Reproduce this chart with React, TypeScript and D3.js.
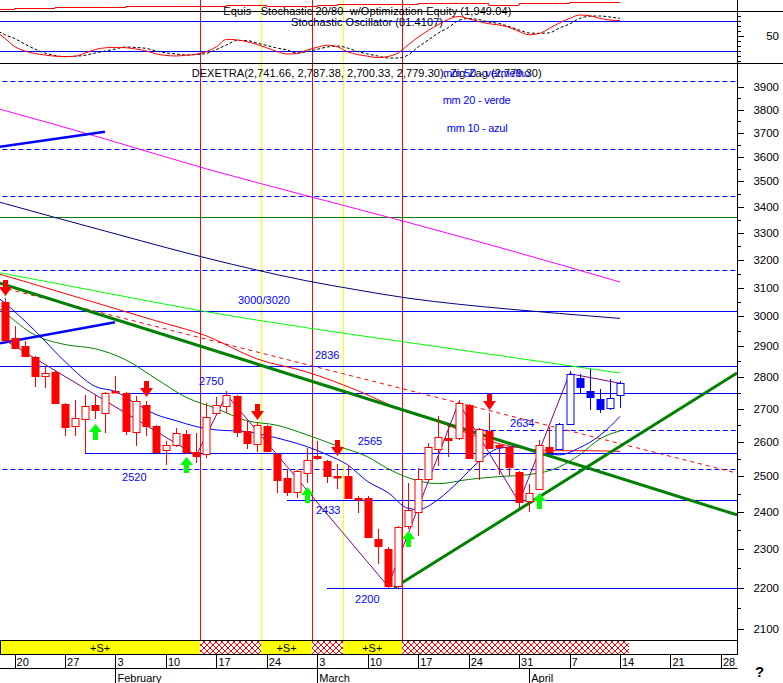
import React from 'react';
import * as d3 from 'd3';

// day index 0 = Fri 17 Jan 2003, one index per weekday
const opens = [3050,2927,2899,2864,2802,2814,2715,2648,2668,2712,2687,2756,2749,2628,2712,2648,2575,2591,2624,2569,2562,2685,2709,2738,2632,2594,2647,2562,2493,2455,2508,2557,2542,2501,2501,2439,2439,2327,2301,2204,2361,2398,2492,2579,2610,2610,2712,2544,2633,2589,2585,2511,2429,2464,2585,2577,2654,2796,2756,2730,2702,2741.66];
const highs = [3062,2966,2916,2866,2832,2818,2718,2726,2743,2743,2751,2804,2753,2738,2723,2650,2601,2641,2636,2625,2718,2736,2754,2743,2661,2657,2650,2565,2520,2518,2582,2601,2547,2533,2530,2443,2443,2352,2304,2362,2481,2523,2597,2676,2651,2728,2715,2641,2687,2592,2588,2515,2476,2606,2645,2657,2817,2809,2826,2761,2793,2787.38];
const lows = [2915,2891,2864,2768,2764,2715,2618,2618,2567,2668,2626,2750,2620,2587,2618,2567,2532,2585,2562,2537,2553,2682,2687,2615,2577,2569,2571,2453,2442,2439,2481,2545,2479,2462,2434,2395,2329,2261,2200,2200,2352,2334,2490,2528,2555,2606,2549,2488,2580,2504,2499,2411,2399,2462,2568,2575,2651,2746,2697,2687,2697,2700.33];
const closes = [2920,2894,2868,2804,2812,2718,2645,2671,2707,2695,2749,2752,2633,2723,2648,2570,2589,2627,2570,2559,2674,2712,2743,2630,2596,2651,2572,2488,2455,2515,2547,2551,2501,2496,2439,2434,2332,2307,2204,2357,2404,2490,2585,2614,2606,2718,2551,2638,2582,2585,2526,2426,2453,2591,2569,2654,2810,2769,2735,2699,2733,2779.30];
const BLUE_FROM = 55;

// stochastic %K / %D, day index -1 .. 61
const stochK = [62.6,46.6,29.6,20.6,15.6,12.6,10.2,9.4,10.2,16.6,23.6,27,27.8,27.2,24.6,21,15,11.8,10.6,12.2,14,19.2,29,43.8,43,39.2,33.8,27,19.6,14.6,15.6,22.6,28,32.2,29,19,13.6,10.2,7.4,9.6,16.6,32.6,48.6,61.6,73.6,84,89.6,85,79.6,75.2,72.6,68,59.6,53,55.6,66,76.8,85.6,92.6,91.2,85.8,82.6,81.41];
const stochD = [64.6,53.6,45.6,34.6,24.6,16.6,11.6,9.4,10.2,12,16.6,20.6,24.6,28.6,27.6,26,20.6,17,14.6,12.6,13.6,15.6,23.6,32.6,41.6,41.6,36.6,31.6,26.6,22.6,16.6,19.6,24,28.6,30.6,26.6,19.6,14.6,10.6,6.6,6.6,12.6,28.6,42.6,56.6,67.6,81.6,85.6,83.4,78.6,75.6,69.6,62.6,56.6,56,57,66.6,74.6,85.6,90.2,90.6,88.6,86];
const equity = [1167,1167,1278,1278,1278,1278,1356,1356,1356,1356,1356,1356,1356,1467,1467,1467,1467,1467,1467,1467,1467,1533,1533,1611,1611,1611,1611,1500,1500,1500,1500,1500,1644,1644,1722,1722,1722,1722,1722,1722,1722,1722,1867,1867,1867,1867,1867,1867,1867,1644,1644,1644,1867,1867,1867,1867,1867,1949.04,1949.04,1949.04,1949.04,1949.04,1949.04];

// moving averages [dayIndex, value]
const ma10: [number, number][] = [[-1,3075],[0,3047],[3,2952],[6,2849],[9,2769],[11,2753],[13,2716],[15,2682],[17,2663],[19,2645],[21,2635],[24,2630],[26,2618],[28,2603],[30,2585],[32,2561],[34,2532],[36,2484],[38,2453],[40,2409],[41,2406],[43,2434],[45,2484],[47,2541],[49,2580],[51,2585],[53,2568],[55,2561],[57,2582],[59,2618],[61,2676]];
const ma20: [number, number][] = [[-1,3040],[0,3013],[3,2937],[6,2905],[9,2891],[12,2855],[15,2794],[18,2735],[21,2700],[24,2663],[27,2649],[30,2620],[33,2587],[36,2555],[38,2521],[40,2495],[43,2478],[46,2490],[49,2498],[52,2504],[55,2526],[57,2561],[59,2608],[61,2632]];
const ma50: [number, number][] = [[-1,3153],[0,3143],[5,3090],[10,3037],[15,2985],[20,2934],[25,2858],[30,2815],[35,2756],[40,2688],[43,2660],[46,2624],[49,2594],[52,2578],[55,2573],[58,2573],[61,2571]];
const maLime: [number, number][] = [[-1,3157],[0,3150],[10,3082],[20,3016],[30,2961],[40,2912],[50,2864],[61,2812]];
const maNavy: [number, number][] = [[-1,3424],[0,3413],[10,3307],[20,3207],[25,3163],[30,3124],[35,3092],[40,3063],[45,3042],[50,3025],[55,3010],[61,2993]];
const maMagenta: [number, number][] = [[-1,3808],[0,3796],[10,3674],[20,3551],[30,3443],[40,3340],[50,3236],[61,3120]];

const zigzagDays = [0, 19, 22, 38, 45, 51, 56, 61];

const solidLevels = [
  { v: 3360, from: -1, green: true },
  { v: 3020, from: -1 },
  { v: 2836, from: -1 },
  { v: 2750, from: 11.75 },
  { v: 2565, from: 7.98 },
  { v: 2433, from: 28 },
  { v: 2200, from: 32 },
];
const dashedLevels = [
  { v: 3925, from: -1 },
  { v: 3631, from: -1 },
  { v: 3443, from: -1 },
  { v: 3163, from: -1 },
  { v: 2634, from: 47.4 },
  { v: 2520, from: -1 },
];
const levelLabels = [
  { text: '3000/3020', d: 23.14, v: 3020, dy: -6.6 },
  { text: '2836', d: 30.77, v: 2836, dy: -6.6 },
  { text: '2750', d: 19.28, v: 2750, dy: -7.5 },
  { text: '2565', d: 35.0, v: 2565, dy: -8.4 },
  { text: '2634', d: 50.1, v: 2634, dy: -3.3 },
  { text: '2520', d: 11.65, v: 2520, dy: 12 },
  { text: '2433', d: 30.87, v: 2433, dy: 14.5 },
  { text: '2200', d: 34.74, v: 2200, dy: 15 },
];

const trendLines = [
  { d1: -0.45, v1: 3642, d2: 9.96, v2: 3705, color: '#0000ff', w: 2.5 },
  { d1: -0.45, v1: 2909, d2: 10.95, v2: 2980, color: '#0000ff', w: 2.5 },
  { d1: -0.45, v1: 3116, d2: 72.6, v2: 2391, color: '#008000', w: 3 },
  { d1: 38.6, v1: 2200, d2: 72.6, v2: 2812, color: '#008000', w: 3 },
];
const dashedTrend = { d1: -0.45, v1: 3102, d2: 72.6, v2: 2508 };

const sellDays = [0, 14, 25, 33, 48];
const sellTips = [3069, 2737, 2666, 2558, 2697];
const buyDays = [9, 18, 30, 40, 53];
const buyTips = [2654, 2556, 2469, 2347, 2453];

const redSignalDays = [19.4, 30.5, 39.4];
const yellowSignalDays = [25.4, 33.5];
const stripSegments = [
  { from: -0.5, to: 19.4, s: true },
  { from: 19.4, to: 25.4, s: false },
  { from: 25.4, to: 30.5, s: true },
  { from: 30.5, to: 33.5, s: false },
  { from: 33.5, to: 39.4, s: true },
  { from: 39.4, to: 61.9, s: false },
];

const mondayDays = [1, 6, 11, 16, 21, 26, 31, 36, 41, 46, 51, 56, 61, 66, 71];
const mondayLabels = ['20', '27', '3', '10', '17', '24', '3', '10', '17', '24', '31', '7', '14', '21', '28'];
const monthDays = [11, 31, 52];
const monthLabels = ['February', 'March', 'April'];

const priceTicks = d3.range(2100, 3901, 100);
const priceMinor = d3.range(2150, 3901, 100);

const FONT = "'Liberation Sans', Arial, sans-serif";
const px = (v: number) => Math.round(v) + 0.5;

export default function App() {
  const AX = 737;
  const x = d3.scaleLinear().domain([0, 71]).range([4.5, 720.9]);
  const y = d3.scaleLog().domain([2100, 3900]).range([628.5, 86.8]);
  const ys = d3.scaleLinear().domain([0, 100]).range([61.3, 11.3]);
  const ye = d3.scaleLinear().domain([1000, 2000]).range([10.5, 1.5]);

  const maLine = d3.line<[number, number]>().x(p => x(p[0])).y(p => y(p[1])).curve(d3.curveMonotoneX);
  const stLine = d3.line<number>().x((_, i) => x(i - 1)).y(v => ys(v)).curve(d3.curveMonotoneX);
  const eqLine = d3.line<number>().x((_, i) => x(i - 1)).y(v => px(ye(v))).curve(d3.curveStepAfter);
  const zz = d3.line<number>().x(d => x(d)).y(d => y(closes[d]));

  const mas = [
    { data: maMagenta, color: '#ff00ff' },
    { data: maNavy, color: '#000080' },
    { data: maLime, color: '#00ff00' },
    { data: ma50, color: '#ff0000' },
    { data: ma20, color: '#008000' },
    { data: ma10, color: '#0000ff' },
  ];

  return (
    <svg width={783} height={683} style={{ position: 'absolute', left: 0, top: 0, background: '#fff' }} fontFamily={FONT}>
      <defs>
        <clipPath id="main"><rect x={0} y={64} width={AX} height={576} /></clipPath>
        <clipPath id="stoch"><rect x={0} y={11.5} width={AX} height={51.5} /></clipPath>
        <clipPath id="eq"><rect x={0} y={0} width={AX} height={11} /></clipPath>
        <pattern id="hatch" width={6} height={6} patternUnits="userSpaceOnUse">
          <rect width={6} height={6} fill="#fff" />
          <path d="M0,0 L6,6 M6,0 L0,6" stroke="#ff0000" strokeWidth={1} />
        </pattern>
      </defs>
      <rect x={0} y={0} width={783} height={683} fill="#fff" />

      {/* vertical signal lines */}
      {yellowSignalDays.map((d, i) => (
        <line key={'yv' + i} x1={px(x(d))} x2={px(x(d))} y1={0} y2={640.5} stroke="#ffff00" strokeWidth={1} />
      ))}
      {redSignalDays.map((d, i) => (
        <line key={'rv' + i} x1={px(x(d))} x2={px(x(d))} y1={0} y2={640.5} stroke="#ff0000" strokeWidth={1} />
      ))}

      {/* equity panel */}
      <g clipPath="url(#eq)">
        <path d={eqLine(equity) || ''} fill="none" stroke="#ff0000" strokeWidth={1} />
      </g>
      <line x1={0} x2={783} y1={11.5} y2={11.5} stroke="#000" />
      <text x={223.3} y={14.7} fontSize={11} textLength={288} lengthAdjust="spacing" style={{ whiteSpace: 'pre' }}>Equis   Stochastic 20/80  w/Optimization Equity (1,949.04)</text>

      {/* stochastic panel */}
      <line x1={0} x2={AX} y1={px(ys(80))} y2={px(ys(80))} stroke="#0000ff" />
      <line x1={0} x2={AX} y1={px(ys(20))} y2={px(ys(20))} stroke="#0000ff" />
      <text x={291} y={25.7} fontSize={11} textLength={152} lengthAdjust="spacing">Stochastic Oscillator (81.4107)</text>
      <g clipPath="url(#stoch)">
        <path d={stLine(stochD) || ''} fill="none" stroke="#000" strokeWidth={1} strokeDasharray="3,2" />
        <path d={stLine(stochK) || ''} fill="none" stroke="#ff0000" strokeWidth={1} />
      </g>
      <line x1={0} x2={783} y1={63.5} y2={63.5} stroke="#000" />

      {/* main panel */}
      <g clipPath="url(#main)">
        {dashedLevels.map((l, i) => (
          <line key={'dl' + i} x1={x(l.from)} x2={AX} y1={px(y(l.v))} y2={px(y(l.v))} stroke="#0000ff" strokeDasharray="5,3" />
        ))}
        {solidLevels.map((l, i) => (
          <line key={'sl' + i} x1={Math.round(x(l.from))} x2={AX} y1={px(y(l.v))} y2={px(y(l.v))} stroke={l.green ? '#008000' : '#0000ff'} />
        ))}
        {mas.map((m, i) => (
          <path key={'ma' + i} d={maLine(m.data) || ''} fill="none" stroke={m.color} strokeWidth={1} />
        ))}
        <line x1={x(dashedTrend.d1)} y1={y(dashedTrend.v1)} x2={x(dashedTrend.d2)} y2={y(dashedTrend.v2)} stroke="#ff0000" strokeDasharray="4,4" />
        {trendLines.map((t, i) => (
          <line key={'tl' + i} x1={x(t.d1)} y1={y(t.v1)} x2={x(t.d2)} y2={y(t.v2)} stroke={t.color} strokeWidth={t.w} />
        ))}
        <path d={zz(zigzagDays) || ''} fill="none" stroke="#800080" strokeWidth={1} />

        {opens.map((o, i) => {
          const c = closes[i];
          const col = i >= BLUE_FROM ? '#0000ff' : '#ff0000';
          const up = c > o;
          const cx = Math.round(x(i)) + 0.5;
          const top = Math.round(y(Math.max(o, c))) + 0.5;
          const bot = Math.round(y(Math.min(o, c))) + 0.5;
          const bh = Math.max(bot - top, 1.5);
          return (
            <g key={'c' + i}>
              <line x1={cx} x2={cx} y1={Math.round(y(highs[i]))} y2={Math.round(y(lows[i]))} stroke={col} />
              <rect x={cx - 3.5} y={top} width={7} height={bh} fill={up ? '#fff' : col} stroke={col} />
            </g>
          );
        })}

        {sellDays.map((d, i) => {
          const cx = Math.round(x(d)) + 0.5;
          const t = Math.round(y(sellTips[i]));
          return <path key={'s' + i} d={`M${cx - 2.5},${t - 16}H${cx + 2.5}V${t - 9}H${cx + 6.5}L${cx},${t}L${cx - 6.5},${t - 9}H${cx - 2.5}Z`} fill="#ff0000" />;
        })}
        {buyDays.map((d, i) => {
          const cx = Math.round(x(d)) + 0.5;
          const t = Math.round(y(buyTips[i]));
          return <path key={'b' + i} d={`M${cx},${t}L${cx + 6.5},${t + 8}H${cx + 2.5}V${t + 16}H${cx - 2.5}V${t + 8}H${cx - 6.5}Z`} fill="#00ff00" />;
        })}

        {levelLabels.map((l, i) => (
          <text key={'ll' + i} x={x(l.d)} y={y(l.v) + l.dy} fontSize={11} fill="#0000ff">{l.text}</text>
        ))}
      </g>

      <text x={191.7} y={76.7} fontSize={11} textLength={350} lengthAdjust="spacing">DEXETRA(2,741.66, 2,787.38, 2,700.33, 2,779.30), Zig Zag (2,779.30)</text>
      <text x={443} y={76.5} fontSize={11} fill="#0000ff" textLength={87} lengthAdjust="spacing">mm 50 - vermelho</text>
      <text x={442.7} y={103.5} fontSize={11} fill="#0000ff" textLength={68} lengthAdjust="spacing">mm 20 - verde</text>
      <text x={446.7} y={131.5} fontSize={11} fill="#0000ff" textLength={61} lengthAdjust="spacing">mm 10 - azul</text>

      {/* right axis */}
      <line x1={AX + 0.5} x2={AX + 0.5} y1={0} y2={640.5} stroke="#000" />
      {priceTicks.map(v => (
        <g key={'pt' + v}>
          <line x1={AX} x2={AX + 7} y1={px(y(v))} y2={px(y(v))} stroke="#000" />
          <text x={779} y={y(v) + 4} fontSize={11.5} textAnchor="end">{v}</text>
        </g>
      ))}
      {priceMinor.map(v => (
        <line key={'pm' + v} x1={AX} x2={AX + 4} y1={px(y(v))} y2={px(y(v))} stroke="#000" />
      ))}
      {d3.range(0, 101, 10).map(v => (
        <line key={'st' + v} x1={AX} x2={AX + (v === 50 ? 7 : 4)} y1={px(ys(v))} y2={px(ys(v))} stroke="#000" />
      ))}
      <text x={779} y={ys(50) + 4} fontSize={11.5} textAnchor="end">50</text>

      {/* signal strip */}
      {stripSegments.map((s, i) => {
        const x0 = Math.max(0, Math.round(x(s.from)));
        const x1 = Math.round(x(s.to));
        return <rect key={'sg' + i} x={x0} y={640.5} width={x1 - x0} height={14} fill={s.s ? '#ffff00' : 'url(#hatch)'} />;
      })}
      {stripSegments.filter(s => s.s).map((s, i) => (
        <text key={'sl' + i} x={(Math.max(0, x(s.from)) + x(s.to)) / 2} y={651.5} fontSize={11} textAnchor="middle">+S+</text>
      ))}
      <rect x={0.5} y={640.5} width={AX} height={14} fill="none" stroke="#000" />

      {/* date axis */}
      {mondayDays.map((d, i) => (
        <g key={'md' + i}>
          <line x1={px(x(d))} x2={px(x(d))} y1={654.5} y2={668.5} stroke="#000" />
          <text x={x(d) + 2} y={665.5} fontSize={11}>{mondayLabels[i]}</text>
        </g>
      ))}
      <line x1={0} x2={AX + 0.5} y1={668.5} y2={668.5} stroke="#000" />
      {monthDays.map((d, i) => (
        <g key={'mo' + i}>
          <line x1={px(x(d))} x2={px(x(d))} y1={668.5} y2={683} stroke="#000" />
          <text x={x(d) + 2} y={681.5} fontSize={11}>{monthLabels[i]}</text>
        </g>
      ))}
      <text x={755} y={677} fontSize={15} fontWeight="bold">?</text>
    </svg>
  );
}
